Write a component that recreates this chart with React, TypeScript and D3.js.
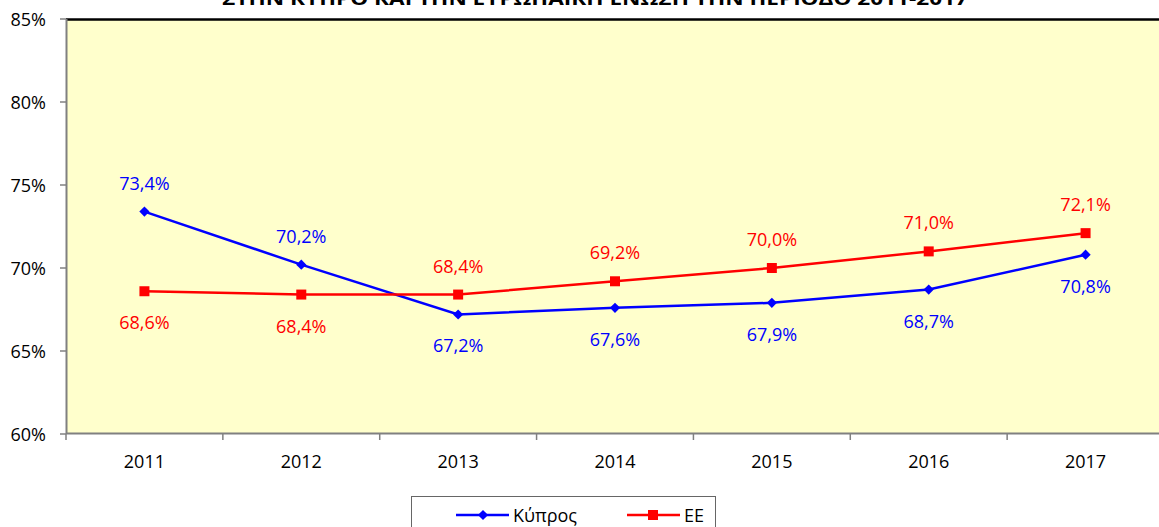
import React from 'react';
import * as d3 from 'd3';

// data
const years = ['2011', '2012', '2013', '2014', '2015', '2016', '2017'];
const cyprus = [73.4, 70.2, 67.2, 67.6, 67.9, 68.7, 70.8];
const eu = [68.6, 68.4, 68.4, 69.2, 70.0, 71.0, 72.1];
// which side the value label sits on (1 = above)
const cyprusAbove = [1, 1, 0, 0, 0, 0, 0];
const euAbove = [0, 0, 1, 1, 1, 1, 1];
const yTicks = [60, 65, 70, 75, 80, 85];
const title = 'ΣΤΗΝ ΚΥΠΡΟ ΚΑΙ ΤΗΝ ΕΥΡΩΠΑΪΚΗ ΕΝΩΣΗ ΤΗΝ ΠΕΡΙΟΔΟ 2011-2017';

const W = 1159;
const H = 527;
const font = '"Open Sans", "Liberation Sans", Arial, sans-serif';

export default function App() {
  const x = d3.scaleBand().domain(years).range([66, 1164]).padding(0);
  const y = d3.scaleLinear().domain([60, 85]).range([434, 19]);
  const cx = (d: string) => (x(d) as number) + x.bandwidth() / 2;

  const line = d3
    .line<number>()
    .x((d, i) => cx(years[i]))
    .y(d => y(d));

  const fmt = (v: number) => v.toFixed(1).replace('.', ',') + '%';

  // diamond = square turned 45deg
  const diamond = d3.symbol().type(d3.symbolSquare).size(52)();
  const square = d3.symbol().type(d3.symbolSquare).size(100)();

  const series = [
    { name: 'Κύπρος', values: cyprus, above: cyprusAbove, color: '#0000FF', marker: diamond, rot: 45 },
    { name: 'ΕΕ', values: eu, above: euAbove, color: '#FF0000', marker: square, rot: 0 },
  ];

  return (
    <svg width={W} height={H} style={{ position: 'absolute', left: 0, top: 0 }} fontFamily={font}>
      <rect x={0} y={0} width={W} height={H} fill="#fff" />
      {/* title, cut off at the top */}
      <text x={595} y={5} textAnchor="middle" fontWeight="bold" fontSize={17}
        textLength={746} lengthAdjust="spacingAndGlyphs">{title}</text>

      {/* plot area */}
      <rect x={66} y={19} width={1100} height={415} fill="#FFFFCC" />
      <line x1={66} x2={W} y1={19.5} y2={19.5} stroke="#000" strokeWidth={2.5} />
      <line x1={66.5} x2={66.5} y1={19} y2={434} stroke="#808080" strokeWidth={2} />
      <line x1={66} x2={W} y1={433.5} y2={433.5} stroke="#808080" strokeWidth={2} />

      {/* y axis */}
      {yTicks.map(t => (
        <g key={t}>
          <line x1={60} x2={66} y1={y(t)} y2={y(t)} stroke="#808080" strokeWidth={1.5} />
          <text x={46} y={y(t) + 6.5} textAnchor="end" fontSize={18}>{t}%</text>
        </g>
      ))}

      {/* x axis */}
      {years.map(d => (
        <g key={d}>
          <line x1={x(d) as number} x2={x(d) as number} y1={434} y2={440} stroke="#808080" strokeWidth={1.5} />
          <text x={cx(d)} y={468} textAnchor="middle" fontSize={18}>{d}</text>
        </g>
      ))}

      {/* lines */}
      {series.map(s => (
        <g key={s.name}>
          <path d={line(s.values) as string} fill="none" stroke={s.color} strokeWidth={2.5} />
          {s.values.map((v, i) => (
            <path key={i} d={s.marker as string}
              transform={`translate(${cx(years[i])},${y(v)}) rotate(${s.rot})`} fill={s.color} />
          ))}
          {s.values.map((v, i) => (
            <text key={'l' + i} x={cx(years[i])} y={s.above[i] ? y(v) - 22 : y(v) + 38}
              textAnchor="middle" fontSize={18} fill={s.color}>{fmt(v)}</text>
          ))}
        </g>
      ))}

      {/* legend */}
      <rect x={411.5} y={496.5} width={304} height={40} fill="#fff" stroke="#666" strokeWidth={1} />
      <line x1={456} x2={509} y1={515} y2={515} stroke="#0000FF" strokeWidth={2.5} />
      <path d={diamond as string} transform="translate(483,515) rotate(45)" fill="#0000FF" />
      <text x={513} y={521.5} fontSize={18}>Κύπρος</text>
      <line x1={627} x2={680} y1={515} y2={515} stroke="#FF0000" strokeWidth={2.5} />
      <path d={square as string} transform="translate(653,515)" fill="#FF0000" />
      <text x={684} y={521.5} fontSize={18}>ΕΕ</text>
    </svg>
  );
}
